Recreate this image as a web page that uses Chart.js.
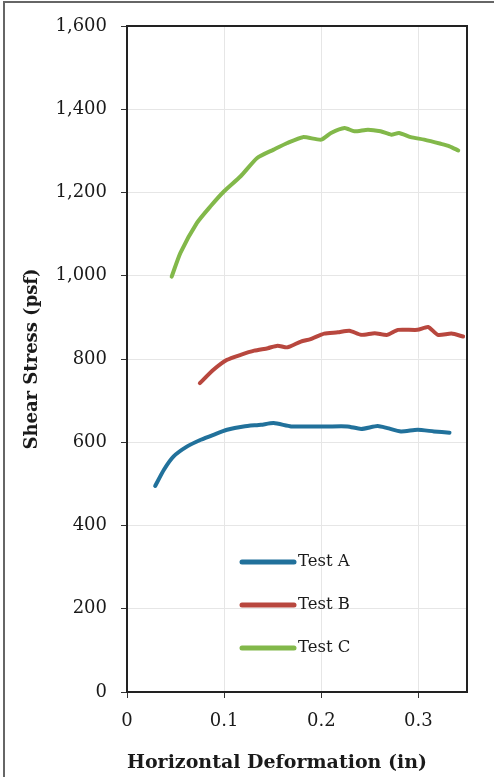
<!DOCTYPE html>
<html>
<head>
<meta charset="utf-8">
<script src="https://cdn.jsdelivr.net/npm/chart.js@4/dist/chart.umd.min.js"></script>
<style>
  html, body { margin: 0; padding: 0; background: #fff; }
  #wrap { position: relative; width: 499px; height: 777px; }
</style>
</head>
<body>
<div id="wrap"><canvas id="c" width="499" height="777"></canvas></div>
<script>
const seriesLabels = ['Test A', 'Test B', 'Test C'];

const testA_x = [0.029, 0.038, 0.048, 0.062, 0.076, 0.089, 0.103, 0.120, 0.138, 0.151, 0.169, 0.186, 0.206, 0.227, 0.241, 0.258, 0.268, 0.282, 0.299, 0.316, 0.332];
const testA_y = [495, 534, 566, 590, 606, 618, 630, 638, 642, 646, 638, 638, 638, 638, 632, 639, 634, 626, 630, 626, 623];

const testB_x = [0.075, 0.089, 0.103, 0.117, 0.131, 0.145, 0.155, 0.165, 0.179, 0.189, 0.203, 0.217, 0.229, 0.241, 0.255, 0.268, 0.279, 0.299, 0.310, 0.320, 0.334, 0.346];
const testB_y = [742, 774, 798, 810, 820, 826, 832, 828, 842, 848, 861, 864, 868, 858, 862, 858, 870, 870, 877, 858, 861, 854];

const testC_x = [0.046, 0.055, 0.072, 0.086, 0.100, 0.117, 0.134, 0.151, 0.165, 0.181, 0.200, 0.210, 0.224, 0.234, 0.248, 0.261, 0.272, 0.280, 0.292, 0.306, 0.323, 0.332, 0.341];
const testC_y = [998, 1055, 1127, 1167, 1203, 1239, 1283, 1303, 1319, 1333, 1327, 1343, 1355, 1347, 1351, 1347, 1339, 1343, 1333, 1327, 1317, 1311, 1301];

const xTickStep = 0.1;
const yTickStep = 200;

const colors = ['#21719b', '#b8473e', '#82b84a'];

function pts(xs, ys) { return xs.map((x, i) => ({ x: x, y: ys[i] })); }

const serif = '"DejaVu Serif", "Liberation Serif", serif';

const framePlugin = {
  id: 'frame',
  beforeDraw(chart) {
    const ctx = chart.ctx;
    ctx.save();
    ctx.fillStyle = '#fff';
    ctx.fillRect(0, 0, chart.width, chart.height);
    ctx.strokeStyle = '#666';
    ctx.lineWidth = 2;
    ctx.beginPath();
    ctx.moveTo(4, chart.height);
    ctx.lineTo(4, 2);
    ctx.lineTo(494, 2);
    ctx.stroke();
    ctx.restore();
  },
  afterDatasetsDraw(chart) {
    const ctx = chart.ctx;
    const a = chart.chartArea;
    ctx.save();
    ctx.strokeStyle = '#222';
    ctx.lineWidth = 2;
    ctx.strokeRect(a.left, a.top, a.right - a.left, a.bottom - a.top);
    // legend inside plot area
    const lx0 = a.left + 115, lx1 = a.left + 167;
    const ys = [a.top + 536, a.top + 579, a.top + 622];
    ctx.font = '16.5px ' + serif;
    ctx.textBaseline = 'middle';
    ctx.textAlign = 'left';
    chart.data.datasets.forEach((ds, i) => {
      ctx.strokeStyle = ds.borderColor;
      ctx.lineWidth = 5;
      ctx.lineCap = 'round';
      ctx.beginPath();
      ctx.moveTo(lx0, ys[i]);
      ctx.lineTo(lx1, ys[i]);
      ctx.stroke();
      ctx.fillStyle = '#1a1a1a';
      ctx.fillText(ds.label, lx1 + 4, ys[i]);
    });
    ctx.restore();
  }
};

new Chart(document.getElementById('c'), {
  type: 'scatter',
  data: {
    datasets: [
      { label: seriesLabels[0], data: pts(testA_x, testA_y), borderColor: colors[0], backgroundColor: colors[0] },
      { label: seriesLabels[1], data: pts(testB_x, testB_y), borderColor: colors[1], backgroundColor: colors[1] },
      { label: seriesLabels[2], data: pts(testC_x, testC_y), borderColor: colors[2], backgroundColor: colors[2] }
    ].map(d => Object.assign(d, { showLine: true, borderWidth: 4, pointRadius: 0, tension: 0.2, borderCapStyle: 'round', borderJoinStyle: 'round' }))
  },
  options: {
    responsive: false,
    animation: false,
    devicePixelRatio: 1,
    layout: { padding: { left: 18, top: 26, right: 32, bottom: 0 } },
    plugins: { legend: { display: false }, tooltip: { enabled: false } },
    scales: {
      x: {
        type: 'linear',
        min: 0, max: 0.35,
        border: { display: true, color: '#222', width: 2 },
        grid: { color: '#e6e6e6', lineWidth: 1, tickColor: '#333', tickLength: 6, drawTicks: true },
        ticks: { stepSize: xTickStep, includeBounds: false, color: '#1a1a1a', font: { family: serif, size: 18 }, padding: 13,
                 callback: v => v === 0 ? '0' : v.toFixed(1) },
        title: { display: true, text: 'Horizontal Deformation (in)', align: 'start', color: '#1a1a1a',
                 font: { family: serif, size: 19, weight: 'bold' }, padding: { top: 4, bottom: 3 } },
        afterFit(s) { s.height = 85; }
      },
      y: {
        type: 'linear',
        min: 0, max: 1600,
        border: { display: true, color: '#222', width: 2 },
        grid: { color: '#e6e6e6', lineWidth: 1, tickColor: '#333', tickLength: 6, drawTicks: true },
        ticks: { stepSize: yTickStep, color: '#1a1a1a', font: { family: serif, size: 18 }, padding: 14 },
        title: { display: true, text: 'Shear Stress (psf)', color: '#1a1a1a',
                 font: { family: serif, size: 18, weight: 'bold' }, padding: { top: 4, bottom: 4 } },
        afterFit(s) { s.width = 109; }
      }
    }
  },
  plugins: [framePlugin]
});
</script>
</body>
</html>
